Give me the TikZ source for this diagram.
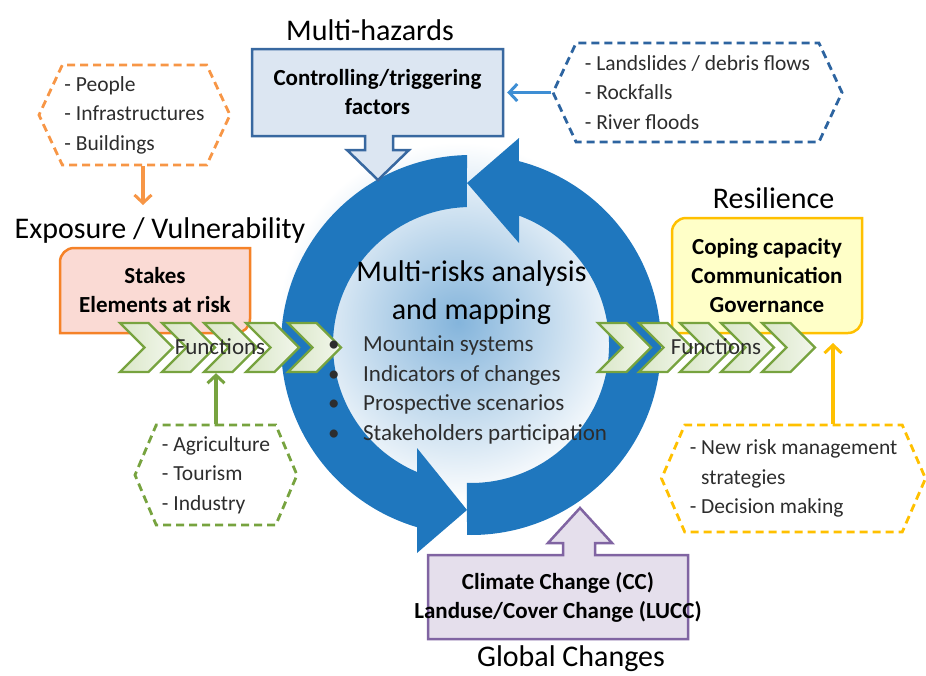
\documentclass[tikz,border=0pt]{standalone}
\usepackage{fontspec}
\setmainfont{Carlito}
\usetikzlibrary{shapes,arrows,arrows.meta,positioning}

\definecolor{ringblue}{RGB}{31,119,190}
\definecolor{hazline}{RGB}{56,104,160}
\definecolor{hazfill}{RGB}{220,230,242}
\definecolor{hazdash}{RGB}{45,100,160}
\definecolor{hazarrow}{RGB}{62,142,212}
\definecolor{exporange}{RGB}{247,150,70}
\definecolor{stakefill}{RGB}{250,218,212}
\definecolor{stakeline}{RGB}{245,130,40}
\definecolor{chevgreen}{RGB}{119,163,63}
\definecolor{chevfill}{RGB}{218,231,200}
\definecolor{resyellow}{RGB}{255,192,0}
\definecolor{resfill}{RGB}{255,255,200}
\definecolor{gcpurple}{RGB}{128,100,162}
\definecolor{gcfill}{RGB}{229,223,236}
\definecolor{txtgray}{RGB}{45,45,45}

\begin{document}
\begin{tikzpicture}[x=1pt, y=-1pt,
    title/.style={font=\fontsize{30}{36}\selectfont, text=black, inner sep=0pt},
    boxtext/.style={font=\bfseries\fontsize{23}{29}\selectfont, align=center, inner sep=0pt},
    hexbox/.style={signal, signal to=east and west, dash pattern=on 8pt off 5pt, line width=2.8pt, align=left, font=\fontsize{21.5}{29.5}\selectfont, text=txtgray, inner sep=0pt},
    chevron/.style={signal, signal from=west, signal to=east, signal pointer angle=90, draw=chevgreen, line width=2.3pt, left color=chevfill, right color=chevfill!35!white, minimum width=53, minimum height=49, inner sep=0pt},
    functext/.style={font=\fontsize{23}{28}\selectfont, text=txtgray, inner sep=0pt},
    arrow/.style={-{Straight Barb[length=8pt, width=17pt, line width=3pt]}, line width=3.2pt}
]
\useasboundingbox (0,0) rectangle (926,675);

% Cycle in the middle
\shade[inner color=ringblue!55!white, outer color=white] (458,322) circle (180);
\begin{scope}[shift={(471,345)}, yscale=-1]
  \fill[ringblue] (91.2:190) arc[start angle=91.2, end angle=253.5, radius=190] -- (-54,-208) -- (-4,-165) -- (-54,-103) -- (247:138) arc[start angle=247, end angle=91.7, radius=138] -- cycle;
  \fill[ringblue] (268.8:190) arc[start angle=268.8, end angle=435.4, radius=190] -- (48,207) -- (-4,162) -- (48,102) -- (69.6:138) arc[start angle=69.6, end angle=-91.7, radius=138] -- cycle;
\end{scope}

% Boxes
\filldraw[fill=hazfill, draw=hazline, line width=2.5pt] (252,49) -- (503,49) -- (503,136) -- (393,136) -- (393,150) -- (409,150) -- (378,180) -- (347,150) -- (365,150) -- (365,136) -- (252,136) -- cycle;
\node[boxtext, minimum width=251, minimum height=87] at (377.5,92.5) (triggers) {Controlling/triggering\\factors};

\filldraw[fill=gcfill, draw=gcpurple, line width=2.5pt] (428,555) -- (563,555) -- (563,543) -- (548,543) -- (580,508) -- (612,543) -- (595,543) -- (595,555) -- (688,555) -- (688,639) -- (428,639) -- cycle;
\node[boxtext, minimum width=260, minimum height=84] at (558,597) (drivers) {Climate Change (CC)\\Landuse/Cover Change (LUCC)};

\filldraw[fill=stakefill, draw=stakeline, line width=2.5pt] (60,333) [rounded corners=14pt] -- (60,248) [sharp corners] -- (250,248) [rounded corners=14pt] -- (250,333) [sharp corners] -- cycle;
\node[boxtext, minimum width=190, minimum height=85] at (155,290.5) (stakes) {Stakes\\Elements at risk};

\filldraw[fill=resfill, draw=resyellow, line width=2.5pt] (672,333) [rounded corners=14pt] -- (672,218) [sharp corners] -- (862,218) [rounded corners=14pt] -- (862,333) [sharp corners] -- cycle;
\node[boxtext, minimum width=190, minimum height=115] at (767,275.5) (coping) {Coping capacity\\Communication\\Governance};

% Dashed hexagons
\node[hexbox, draw=exporange, minimum width=191, minimum height=100, signal pointer angle=130] at (134.5,115) (people) {- People\\- Infrastructures\\- Buildings};
\node[hexbox, draw=hazdash, minimum width=289, minimum height=99, signal pointer angle=130] at (697.5,92.5) (hazards) {- Landslides / debris flows\\- Rockfalls\\- River floods};
\node[hexbox, draw=chevgreen, minimum width=162, minimum height=100, signal pointer angle=134] at (216,475) (crops) {- Agriculture\\- Tourism\\- Industry};
\node[hexbox, draw=resyellow, minimum width=264, minimum height=107, signal pointer angle=133] at (793.5,478.5) (actions) {- New risk management\\\hphantom{- }strategies\\- Decision making};

% Functions chevrons
\node[chevron] at (146.5,347.5) (cl1) {};
\node[chevron] at (188.5,347.5) (cl2) {};
\node[chevron] at (230.5,347.5) (cl3) {};
\node[chevron] at (272.5,347.5) (cl4) {};
\node[chevron] at (314.5,347.5) (cl5) {};
\node[functext] at (220,347) (funcL) {Functions};

\node[chevron] at (624.5,347.5) (cr1) {};
\node[chevron] at (665.5,347.5) (cr2) {};
\node[chevron] at (706.5,347.5) (cr3) {};
\node[chevron] at (747.5,347.5) (cr4) {};
\node[chevron] at (788.5,347.5) (cr5) {};
\node[functext] at (716,347) (funcR) {Functions};

% Centre text
\node[title, align=center, font=\fontsize{30}{38}\selectfont] at (471.5,293) (mra) {Multi-risks analysis\\and mapping};
\node[anchor=west, align=left, font=\fontsize{23}{29.5}\selectfont, text=txtgray, inner sep=0pt] at (328,390) (topics) {
    \makebox[35pt][l]{\textbullet}Mountain systems\\
    \makebox[35pt][l]{\textbullet}Indicators of changes\\
    \makebox[35pt][l]{\textbullet}Prospective scenarios\\
    \makebox[35pt][l]{\textbullet}Stakeholders participation};

% Titles
\node[title] at (370,30) (hazTitle) {Multi-hazards};
\node[title] at (160,230) (exposure) {Exposure / Vulnerability};
\node[title] at (773.5,198) (resTitle) {Resilience};
\node[title] at (571,659) (gcTitle) {Global Changes};

% Arrows
\coordinate (stakesIn) at (143,205);
\coordinate (copingIn) at (833,343);
\draw[arrow, hazarrow, shorten >=4pt] (hazards.west) -- (triggers.east);
\draw[arrow, exporange] (people.south -| stakesIn) -- (stakesIn);
\draw[arrow, chevgreen] (crops.north) -- (crops.north |- cl3.south);
\draw[arrow, resyellow] (actions.north -| copingIn) -- (copingIn);

\end{tikzpicture}
\end{document}
